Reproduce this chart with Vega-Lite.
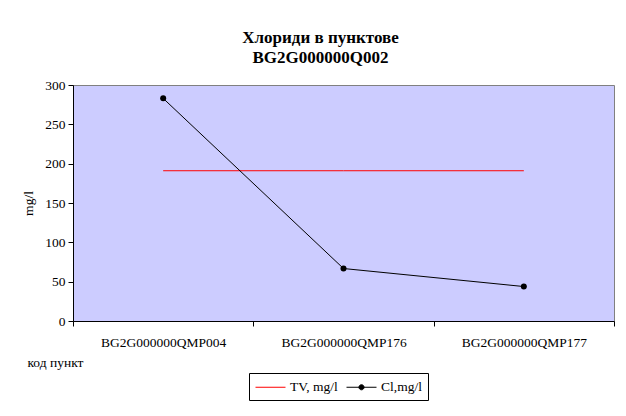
{
  "$schema": "https://vega.github.io/schema/vega-lite/v6.json",
  "autosize": {"type": "none"},
  "padding": {"left": 73, "top": 85, "right": 12, "bottom": 95},
  "width": 541,
  "height": 236,
  "background": "white",
  "title": {
    "text": ["Хлориди в пунктове", "BG2G000000Q002"],
    "fontSize": 17,
    "fontWeight": "bold",
    "font": "Times New Roman, Liberation Serif, serif",
    "color": "black",
    "lineHeight": 20.5,
    "anchor": "middle",
    "frame": "group",
    "dx": -23,
    "offset": 11
  },
  "data": {
    "values": [
      {"point": "BG2G000000QMP004", "series": "TV, mg/l", "value": 191},
      {"point": "BG2G000000QMP176", "series": "TV, mg/l", "value": 191},
      {"point": "BG2G000000QMP177", "series": "TV, mg/l", "value": 191},
      {"point": "BG2G000000QMP004", "series": "Cl,mg/l", "value": 283},
      {"point": "BG2G000000QMP176", "series": "Cl,mg/l", "value": 66.7},
      {"point": "BG2G000000QMP177", "series": "Cl,mg/l", "value": 43.8}
    ]
  },
  "encoding": {
    "x": {
      "field": "point",
      "type": "nominal",
      "sort": null,
      "bandPosition": 0.5,
      "scale": {"type": "band", "paddingInner": 0, "paddingOuter": 0},
      "axis": {
        "title": "код пункт",
        "titleFontWeight": "normal",
        "titleFontSize": 13.5,
        "titleAnchor": "start",
        "titleAlign": "left",
        "titleBaseline": "alphabetic",
        "titleX": -46,
        "titleY": 45,
        "labelAngle": 0,
        "labelFontSize": 13.5,
        "labelPadding": 9,
        "tickBand": "extent",
        "tickSize": 5,
        "ticks": true
      }
    },
    "y": {
      "field": "value",
      "type": "quantitative",
      "scale": {"domain": [0, 300], "nice": false},
      "axis": {
        "title": "mg/l",
        "titleFontWeight": "normal",
        "titleFontSize": 13.5,
        "titleAngle": -90,
        "titleAlign": "center",
        "titleBaseline": "middle",
        "titleX": -45,
        "titleY": 118,
        "values": [0, 50, 100, 150, 200, 250, 300],
        "labelFontSize": 13.5,
        "labelPadding": 3,
        "tickSize": 5,
        "grid": false
      }
    }
  },
  "layer": [
    {
      "mark": {"type": "line", "strokeWidth": 1},
      "encoding": {
        "color": {
          "field": "series",
          "type": "nominal",
          "scale": {"domain": ["TV, mg/l", "Cl,mg/l"], "range": ["#FF0000", "#000000"]},
          "legend": {
            "title": null,
            "orient": "none",
            "direction": "horizontal",
            "legendX": 176,
            "legendY": 288,
            "padding": 6,
            "strokeColor": "black",
            "fillColor": "white",
            "columnPadding": 6,
            "labelFontSize": 13.5,
            "labelOffset": 19,
            "symbolSize": 225,
            "symbolStrokeWidth": 1,
            "encode": {
              "symbols": {
                "update": {
                  "shape": {"signal": "datum.value === 'Cl,mg/l' ? 'M-1,0L3,0M1.34,0A0.34,0.34,0,1,1,0.66,0A0.34,0.34,0,1,1,1.34,0Z' : 'M-1,0L3,0'"},
                  "fill": {"signal": "datum.value === 'Cl,mg/l' ? 'black' : 'transparent'"},
                  "stroke": {"signal": "datum.value === 'Cl,mg/l' ? 'black' : '#FF0000'"}
                }
              }
            }
          }
        }
      }
    },
    {
      "transform": [{"filter": "datum.series === 'Cl,mg/l'"}],
      "mark": {"type": "point", "shape": "circle", "filled": true, "size": 36, "color": "black", "opacity": 1}
    }
  ],
  "config": {
    "font": "Times New Roman, Liberation Serif, serif",
    "view": {"fill": "#CCCCFF", "stroke": "#808080", "strokeWidth": 1},
    "axis": {
      "domainColor": "black",
      "tickColor": "black",
      "labelColor": "black",
      "titleColor": "black",
      "labelFont": "Times New Roman, Liberation Serif, serif",
      "titleFont": "Times New Roman, Liberation Serif, serif"
    },
    "legend": {"labelFont": "Times New Roman, Liberation Serif, serif", "labelColor": "black"}
  }
}
